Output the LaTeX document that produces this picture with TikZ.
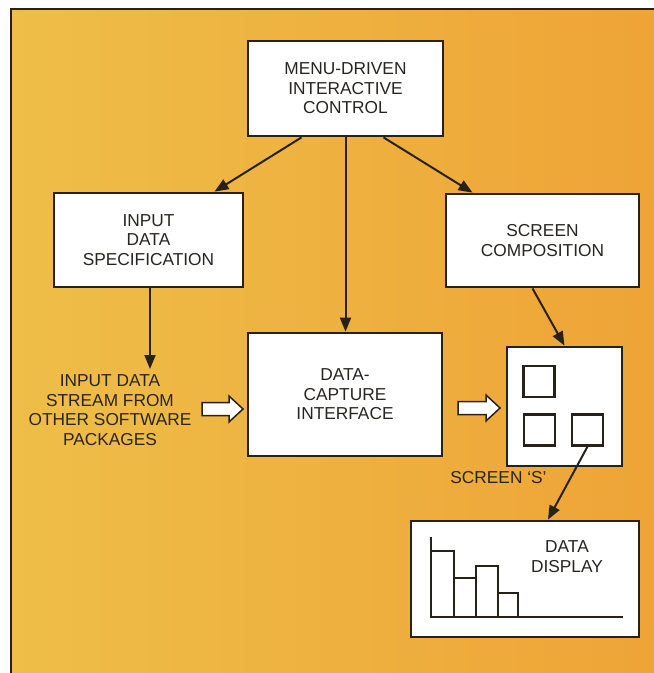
\documentclass[tikz,border=0pt]{standalone}
\usepackage{fontspec}
\setmainfont{Liberation Sans}
\usetikzlibrary{arrows.meta,calc}
\definecolor{ink}{RGB}{40,33,25}
\definecolor{txt}{RGB}{40,37,33}
\definecolor{bgl}{RGB}{238,190,72}
\definecolor{bgr}{RGB}{238,164,54}
\begin{document}
\begin{tikzpicture}[x=1pt,y=-1pt,
  box/.style={draw=ink, line width=2.8pt, fill=white, inner sep=0pt, align=center, text=txt,
    font=\fontsize{17.3}{19.5}\selectfont},
  lbl/.style={align=center, text=txt, inner sep=0pt, font=\fontsize{17.3}{19.5}\selectfont},
  conn/.style={draw=ink, line width=2pt, -{Triangle[length=14pt,width=11pt]}},
  hollow/.style={draw=ink, line width=1.5pt, fill=white, line join=miter},
  chart/.style={draw=ink, line width=1.7pt},
  sq/.style={draw=ink, line width=2.2pt, fill=white, minimum width=31pt, minimum height=31pt, inner sep=0pt}
]
\useasboundingbox (0,0) rectangle (654,673);
\fill[white] (0,0) rectangle (654,673);
\shade[left color=bgl, right color=bgr] (11,9) rectangle (654,673);
\draw[ink, line width=2.8pt] (11,673) -- (11,9) -- (654,9);

% boxes
\node[box, minimum width=195pt, minimum height=95pt] (menu) at (345.5,88.5) {MENU-DRIVEN\\INTERACTIVE\\CONTROL};
\node[box, minimum width=189pt, minimum height=94pt] (spec) at (148.5,240) {INPUT\\DATA\\SPECIFICATION};
\node[box, minimum width=193pt, minimum height=93pt] (comp) at (542.5,240.5) {SCREEN\\COMPOSITION};
\node[box, minimum width=194pt, minimum height=123pt] (capture) at (345,394.5) {DATA-\\CAPTURE\\INTERFACE};
\node[box, minimum width=115pt, minimum height=119pt] (screen) at (564.5,406.5) {};
\node[sq] (sq1) at (539,381.5) {};
\node[sq] (sq2) at (539.5,430) {};
\node[sq] (sq3) at (587.5,430) {};
\node[box, minimum width=228pt, minimum height=116pt] (display) at (525,579) {};
\node[lbl] (disptxt) at (567,556.5) {DATA\\DISPLAY};

% bar chart
\draw[chart] (431,537) -- (431,617) -- (623,617);
\draw[chart] (431,551) rectangle (454,617);
\draw[chart] (454,578) rectangle (476,617);
\draw[chart] (476,566) rectangle (498,617);
\draw[chart] (498,593) rectangle (518,617);

% labels
\node[lbl] (stream) at (110,410) {INPUT DATA\\STREAM FROM\\OTHER SOFTWARE\\PACKAGES};
\node[lbl] (slabel) at (498.5,478) {SCREEN ‘S’};

% connectors
\draw[conn] ([xshift=-44pt]menu.south) -- ([xshift=66pt]spec.north);
\draw[conn] ([xshift=38pt]menu.south) -- ([xshift=-70pt]comp.north);
\draw[conn] (menu.south) -- (menu.south |- capture.north);
\coordinate (streamtop) at (150,369);
\draw[conn] ([xshift=1.5pt]spec.south) -- (streamtop);
\draw[conn] ([xshift=-10pt]comp.south) -- (screen.north);
\draw[conn] (sq3.south) -- ([xshift=23pt]display.north);

% hollow arrows
\draw[hollow] (202,402.5) -- (229,402.5) -- (229,396) -- (243,409) -- (229,422) -- (229,415.5) -- (202,415.5) -- cycle;
\draw[hollow] (458,401.5) -- (486,401.5) -- (486,395) -- (500,408) -- (486,421) -- (486,414.5) -- (458,414.5) -- cycle;
\end{tikzpicture}
\end{document}
